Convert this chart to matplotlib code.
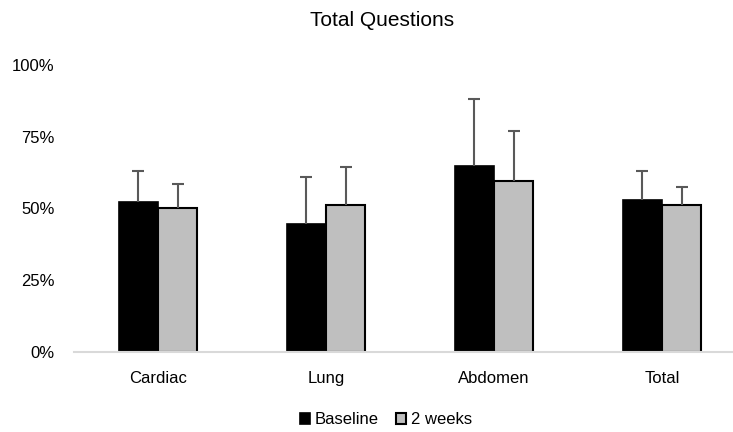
import matplotlib
matplotlib.use("Agg")
from matplotlib import pyplot as plt
from matplotlib.ticker import FuncFormatter
import numpy as np

categories = ["Cardiac", "Lung", "Abdomen", "Total"]
baseline = [52.2, 44.5, 64.9, 52.9]
baseline_err = [11.0, 16.6, 23.1, 10.3]
two_weeks = [50.3, 51.3, 59.6, 51.3]
two_weeks_err = [8.1, 13.0, 17.3, 6.3]
series_names = ["Baseline", "2 weeks"]
yticks = [0, 25, 50, 75, 100]

plt.rcParams['font.family'] = ['Liberation Sans', 'DejaVu Sans']

fig = plt.figure(figsize=(7.33, 4.32), dpi=100)
ax = fig.add_axes([74 / 733, 80 / 432, 659 / 733, 287 / 432])

x = np.arange(len(categories))
w = 0.235
err_kw = dict(ecolor="#595959", elinewidth=1.5, capsize=4, capthick=1.5)
b1 = ax.bar(x - w / 2, baseline, w, color="black", edgecolor="black", linewidth=1.2,
            yerr=[np.zeros(4), baseline_err], error_kw=err_kw, label=series_names[0], zorder=2)
b2 = ax.bar(x + w / 2, two_weeks, w, color="#bfbfbf", edgecolor="black", linewidth=1.5,
            yerr=[np.zeros(4), two_weeks_err], error_kw=err_kw, label=series_names[1], zorder=2)
# only upper caps
for b in (b1, b2):
    b.errorbar.lines[1][0].set_visible(False)

ax.set_xlim(-0.5, -0.5 + 659 / 168)
ax.set_ylim(0, 100)
ax.set_yticks(yticks)
ax.yaxis.set_major_formatter(FuncFormatter(lambda v, p: f"{int(v)}%"))
ax.set_xticks(x)
ax.set_xticklabels(categories)
ax.tick_params(axis="both", length=0, labelsize=12, colors="black")
ax.tick_params(axis="y", pad=14)
ax.tick_params(axis="x", pad=14)
for s in ["top", "right", "left"]:
    ax.spines[s].set_visible(False)
ax.spines["bottom"].set_color("#d9d9d9")
ax.spines["bottom"].set_linewidth(1.5)

fig.text(382 / 733, 1 - 20 / 432, "Total Questions", ha="center", va="center", fontsize=15)
fig.legend(loc="center", bbox_to_anchor=(386 / 733, 1 - 420 / 432), ncol=2, frameon=False,
           fontsize=12, handlelength=0.6, handleheight=0.6, handletextpad=0.3,
           columnspacing=1.0)

fig.savefig("out.png", dpi=100)
